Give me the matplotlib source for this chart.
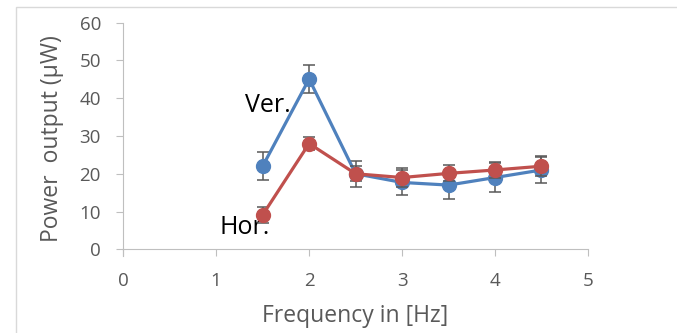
import matplotlib.pyplot as plt
from matplotlib.patches import Rectangle

# frequency (Hz) and power output (uW)
freq = [1.5, 2.0, 2.5, 3.0, 3.5, 4.0, 4.5]
ver = [22.0, 45.1, 20.0, 17.7, 17.0, 19.0, 21.0]
ver_err = [3.7, 3.7, 3.5, 3.4, 3.7, 3.8, 3.4]
hor = [9.1, 28.0, 20.0, 19.0, 20.1, 21.0, 22.0]
hor_err = [2.1, 1.8, 2.0, 2.6, 2.1, 2.1, 2.6]

xticks = [0, 1, 2, 3, 4, 5]
yticks = [0, 10, 20, 30, 40, 50, 60]

plt.rcParams['font.family'] = ['Open Sans', 'DejaVu Sans']
grey = '#595959'
axis_grey = '#bfbfbf'

fig = plt.figure(figsize=(6.77, 3.33), dpi=100)
ax = fig.add_axes([0.182, 0.2514, 0.6865, 0.6804])

ax.errorbar(freq, ver, yerr=ver_err, color='#4F81BD', lw=2.3, marker='o', ms=10,
            ecolor='#595959', elinewidth=1.1, capsize=4.5, capthick=1.1, zorder=3)
ax.errorbar(freq, hor, yerr=hor_err, color='#C0504D', lw=2.3, marker='o', ms=10,
            ecolor='#595959', elinewidth=1.1, capsize=4.5, capthick=1.1, zorder=4)

ax.text(1.557, 38.2, 'Ver.', fontsize=18, color='black', ha='center', va='center')
ax.text(1.31, 5.9, 'Hor.', fontsize=18, color='black', ha='center', va='center')

ax.set_xlim(0, 5)
ax.set_ylim(0, 60)
ax.set_xticks(xticks)
ax.set_yticks(yticks)
ax.tick_params(colors=axis_grey, labelcolor=grey, labelsize=13.5, length=5)
ax.tick_params(axis='x', pad=11)
ax.tick_params(axis='y', pad=11)
for s in ['top', 'right']:
    ax.spines[s].set_visible(False)
for s in ['left', 'bottom']:
    ax.spines[s].set_color(axis_grey)
# y axis runs a little below zero, like the excel cross at the origin
ax.plot([0, 0], [0, -0.031], transform=ax.transAxes, clip_on=False,
        color=axis_grey, lw=0.8)

ax.set_xlabel('Frequency in [Hz]', fontsize=16.5, color=grey)
ax.xaxis.label.set_va('center')
ax.xaxis.set_label_coords(0.5, -0.294)
ax.set_ylabel('Power  output (\u03bcW)', fontsize=16.5, color=grey)
ax.yaxis.label.set_va('center')
ax.yaxis.set_label_coords(-0.153, 0.489)

# light border of the chart area
fig.patches.append(Rectangle((0.0236, -0.05), 1.1, 1.029, transform=fig.transFigure,
                             fill=False, edgecolor='#d9d9d9', lw=1))

fig.savefig('out.png', dpi=100)
